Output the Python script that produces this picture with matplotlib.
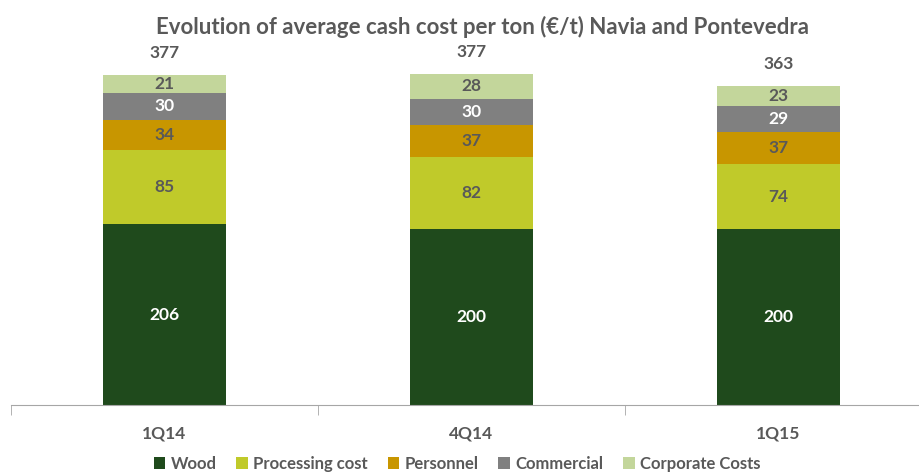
import matplotlib.pyplot as plt
import numpy as np

plt.rcParams['font.family'] = ['Lato', 'DejaVu Sans']
plt.rcParams['font.weight'] = 'bold'

# data
quarters = ["1Q14", "4Q14", "1Q15"]
wood = [206, 200, 200]
processing = [85, 82, 74]
personnel = [34, 37, 37]
commercial = [30, 30, 29]
corporate = [21, 28, 23]
totals = [377, 377, 363]

series_names = ["Wood", "Processing cost", "Personnel", "Commercial", "Corporate Costs"]
series = [wood, processing, personnel, commercial, corporate]
colors = ["#1f4a1c", "#c0ca2a", "#c89600", "#808080", "#c3d69b"]
label_colors = ["white", "#595959", "#595959", "white", "#595959"]
txt = "#595959"

fig = plt.figure(figsize=(9.19, 4.73), dpi=100)
ax = fig.add_axes([11 / 919, 68 / 473, 908 / 919, 365 / 473])

x = np.arange(len(quarters))
bottom = np.zeros(len(quarters))
for name, vals, col, lc in zip(series_names, series, colors, label_colors):
    bars = ax.bar(x, vals, width=0.4, bottom=bottom, color=col, label=name)
    for b, v in zip(bars, vals):
        ax.text(b.get_x() + b.get_width() / 2, b.get_y() + b.get_height() / 2,
                str(v), ha="center", va="center", fontsize=12.5,
                color=lc, fontweight="bold")
    bottom += np.array(vals)

for xi, top, t in zip(x, bottom, totals):
    ax.annotate(str(t), xy=(xi, top), xytext=(0, 16), textcoords="offset points",
                ha="center", va="center", fontsize=12.5, color=txt, fontweight="bold")

ax.set_xlim(-0.5, -0.5 + 908 / 307)
ax.set_ylim(0, 365 / 0.878)
for s in ["top", "right", "left"]:
    ax.spines[s].set_visible(False)
ax.spines["bottom"].set_color("#a6a6a6")
ax.set_yticks([])
ax.set_xticks(x)
ax.set_xticklabels(quarters, fontsize=12.5, color=txt, fontweight="bold")
ax.tick_params(axis="x", which="major", length=0, pad=15)
ax.set_xticks([-0.5, 0.5, 1.5], minor=True)
ax.tick_params(axis="x", which="minor", length=7, color="#a6a6a6")

fig.text(483 / 919, 1 - 27 / 473, "Evolution of average cash cost per ton (\u20ac/t) Navia and Pontevedra",
         ha="center", va="center", fontsize=16, color=txt, fontweight="bold")

leg = fig.legend(loc="center", bbox_to_anchor=(457 / 919, 1 - 464 / 473), ncol=5, frameon=False,
                 handlelength=0.7, handleheight=0.7, handletextpad=0.3, columnspacing=1.2,
                 prop={"size": 12, "weight": "bold"})
for t in leg.get_texts():
    t.set_color(txt)

fig.savefig("out.png", dpi=100)
